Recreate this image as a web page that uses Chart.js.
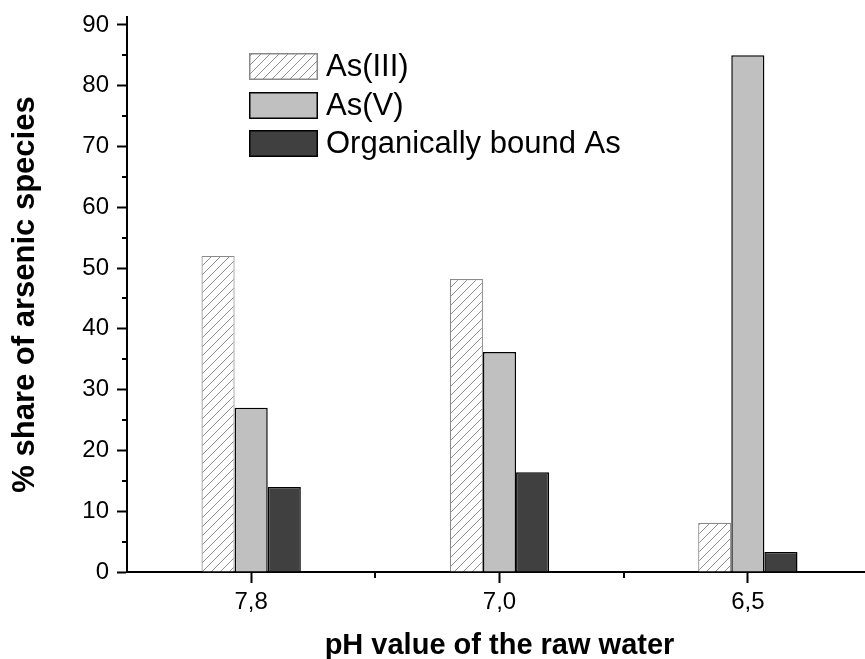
<!DOCTYPE html>
<html>
<head>
<meta charset="utf-8">
<script src="https://cdn.jsdelivr.net/npm/chart.js@4.4.0/dist/chart.umd.min.js"></script>
<style>
html,body{margin:0;padding:0;overflow:hidden;background:#fff;}
canvas{display:block;}
</style>
</head>
<body>
<canvas id="c" width="873" height="659"></canvas>
<script>
const categories = ['7,8', '7,0', '6,5'];
const seriesNames = ['As(III)', 'As(V)', 'Organically bound As'];
const asIII = [52.0, 48.2, 8.1];
const asV = [27.0, 36.2, 85.0];
const organicAs = [14.0, 16.4, 3.3];
const yMinorTicks = [5, 15, 25, 35, 45, 55, 65, 75, 85];
const xBoundaries = [0.5, 1.5];

const FAMILY = "'Liberation Sans', Arial, Helvetica, sans-serif";
const canvas = document.getElementById('c');
const ctx = canvas.getContext('2d');

function makeHatch() {
  const s = 9;
  const pc = document.createElement('canvas');
  pc.width = s; pc.height = s;
  const g = pc.getContext('2d');
  g.fillStyle = '#ffffff';
  g.fillRect(0, 0, s, s);
  g.strokeStyle = '#8e8e8e';
  g.lineWidth = 1;
  g.beginPath();
  g.moveTo(0, s); g.lineTo(s, 0);
  g.moveTo(-2, 2); g.lineTo(2, -2);
  g.moveTo(s - 2, s + 2); g.lineTo(s + 2, s - 2);
  g.stroke();
  return ctx.createPattern(pc, 'repeat');
}
const hatch = makeHatch();

const extras = {
  id: 'extras',
  afterDraw(chart) {
    const c = chart.ctx;
    const area = chart.chartArea;
    const y = chart.scales.y, x = chart.scales.x;
    c.save();
    c.strokeStyle = '#000';
    c.lineWidth = 2;
    c.beginPath();
    yMinorTicks.forEach(v => {
      const py = Math.round(y.getPixelForValue(v));
      c.moveTo(area.left - 5, py); c.lineTo(area.left, py);
    });
    xBoundaries.forEach(v => {
      const px = Math.round(x.getPixelForValue(v));
      c.moveTo(px, area.bottom); c.lineTo(px, area.bottom + 6);
    });
    c.stroke();

    // legend inside plot
    const bx = area.left + 122, by0 = area.top + 36, bw = 69, bh = 27, gap = 38.5;
    chart.data.datasets.forEach((ds, i) => {
      const by = Math.round(by0 + i * gap);
      c.fillStyle = ds.backgroundColor;
      c.fillRect(bx, by, bw, bh);
      c.lineWidth = 1.5;
      c.strokeStyle = ds.borderColor;
      c.strokeRect(bx + 0.75, by + 0.75, bw - 1.5, bh - 1.5);
      c.fillStyle = '#000';
      c.font = '31px ' + FAMILY;
      c.textBaseline = 'middle';
      c.textAlign = 'left';
      c.fillText(ds.label, bx + 77, by + bh / 2 + 1);
    });
    c.restore();
  }
};

new Chart(ctx, {
  type: 'bar',
  data: {
    labels: categories,
    datasets: [
      { label: seriesNames[0], data: asIII, backgroundColor: hatch, borderColor: '#8a8a8a', borderWidth: 1.2 },
      { label: seriesNames[1], data: asV, backgroundColor: '#c0c0c0', borderColor: '#000000', borderWidth: 1.5 },
      { label: seriesNames[2], data: organicAs, backgroundColor: '#404040', borderColor: '#000000', borderWidth: 1.5 }
    ]
  },
  options: {
    responsive: false,
    animation: false,
    layout: { padding: { left: 0, right: 1, top: 17, bottom: 0 } },
    datasets: { bar: { barPercentage: 1, categoryPercentage: 0.4 } },
    plugins: { legend: { display: false }, tooltip: { enabled: false } },
    scales: {
      x: {
        grid: { display: true, drawOnChartArea: false, offset: false, tickLength: 11, tickWidth: 2, tickColor: '#000' },
        border: { display: true, color: '#000', width: 2 },
        ticks: { color: '#000', font: { size: 24, family: FAMILY }, padding: 5, maxRotation: 0 },
        title: { display: true, text: 'pH value of the raw water', color: '#000',
                 font: { size: 29, weight: 'bold', family: FAMILY, lineHeight: 1 }, padding: { top: 0, bottom: -1 } },
        afterFit(s) { s.height = 87; s.paddingLeft = 0; s.paddingRight = 0; }
      },
      y: {
        min: 0, max: 91.3,
        grid: { display: true, drawOnChartArea: false, tickLength: 10, tickWidth: 2, tickColor: '#000' },
        border: { display: true, color: '#000', width: 2 },
        ticks: { stepSize: 10, includeBounds: false, color: '#000', font: { size: 24, family: FAMILY }, padding: 8 },
        title: { display: true, text: '% share of arsenic species', color: '#000',
                 font: { size: 31, weight: 'bold', family: FAMILY, lineHeight: 1 }, padding: { top: 10, bottom: 0 } },
        afterFit(s) { s.width = 127; s.paddingTop = 0; s.paddingBottom = 0; }
      }
    }
  },
  plugins: [extras]
});
</script>
</body>
</html>
